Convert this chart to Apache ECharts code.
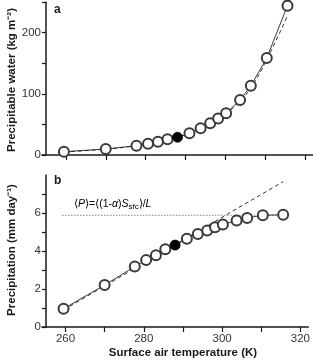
<!DOCTYPE html>
<html><head><meta charset="utf-8">
<script src="https://cdn.jsdelivr.net/npm/echarts@6/dist/echarts.min.js"></script>
<style>html,body{margin:0;padding:0;background:#fff}#c{width:313px;height:363px}</style>
</head><body><div id="c"></div>
<script>
// Data
const temps = [259.5, 270, 277.7, 280.6, 283.1, 285.5, 288.0, 291.0, 293.8, 296.2, 298.2, 300.2, 303.7, 306.4, 310.4, 315.6];
const water = [5.4, 9.8, 15.2, 18.5, 21.8, 25.7, 29, 35.6, 43.8, 52, 59.5, 68.4, 90, 113, 158.5, 244];
const waterFit = [5.0, 9.6, 15.0, 18.3, 21.7, 25.6, 29, 35.4, 43.5, 51.5, 58.8, 67.5, 88, 110, 156, 228];
const precip = [0.96, 2.21, 3.18, 3.52, 3.78, 4.09, 4.31, 4.64, 4.9, 5.08, 5.25, 5.39, 5.6, 5.74, 5.88, 5.91];
const precipFitT = [259.5, 315.6];
const precipFit = [0.9, 7.65];
const limitT = [259.2, 315.6];
const limitP = [5.88, 5.88];
const controlIndex = 6;
const xTicks = [260, 270, 280, 290, 300, 310, 320];
const xLabels = [260, 280, 300, 320];
const wTicks = [0, 50, 100, 150, 200, 250];
const wLabels = [0, 100, 200];
const pTicks = [0, 1, 2, 3, 4, 5, 6, 7];
const pLabels = [0, 2, 4, 6];

const FONT = 'Liberation Sans, Arial, sans-serif';
const INK = '#1a1a1a';
const pair = (xs, ys) => xs.map((x, i) => [x, ys[i]]);
const marked = (xs, ys) => xs.map((x, i) => i === controlIndex
  ? {value: [x, ys[i]], symbol: 'circle', itemStyle: {color: '#000', borderColor: '#000'}}
  : {value: [x, ys[i]]});

function xAxis(gi, showLabels) {
  return {
    type: 'value', gridIndex: gi, min: 254, max: 322,
    axisLine: {lineStyle: {color: INK, width: 1.5}},
    axisTick: {customValues: xTicks, length: 5, lineStyle: {color: INK, width: 1.2}},
    axisLabel: {show: showLabels, customValues: xLabels, color: '#333', fontSize: 11.5, fontFamily: FONT, margin: 6},
    splitLine: {show: false}
  };
}
function yAxis(gi, min, max, ticks, labels) {
  return {
    type: 'value', gridIndex: gi, min: min, max: max, offset: -4,
    axisLine: {show: true, lineStyle: {color: INK, width: 1.5}},
    axisTick: {show: true, customValues: ticks, length: 4, lineStyle: {color: INK, width: 1.2}},
    axisLabel: {customValues: labels, color: '#333', fontSize: 11.5, fontFamily: FONT, margin: 5},
    splitLine: {show: false}
  };
}

const chart = echarts.init(document.getElementById('c'), null, {renderer: 'canvas'});
chart.setOption({
  animation: false,
  backgroundColor: '#fff',
  grid: [
    {left: 42, right: 0, top: 2, height: 153},
    {left: 42, right: 0, top: 175, height: 152}
  ],
  xAxis: [xAxis(0, false), xAxis(1, true)],
  yAxis: [yAxis(0, 0, 250, wTicks, wLabels), yAxis(1, 0, 8, pTicks, pLabels)],
  series: [
    {type: 'line', xAxisIndex: 0, yAxisIndex: 0, data: pair(temps, waterFit), symbol: 'none',
     smooth: true, lineStyle: {color: '#333', width: 1, type: [4, 3]}, z: 1},
    {type: 'line', xAxisIndex: 0, yAxisIndex: 0, data: marked(temps, water), symbol: 'emptyCircle', symbolSize: 10,
     lineStyle: {color: '#222', width: 0.9}, itemStyle: {color: '#3a3a3a', borderWidth: 0.8}, z: 2},
    {type: 'line', xAxisIndex: 1, yAxisIndex: 1, data: pair(limitT, limitP), symbol: 'none',
     lineStyle: {color: '#444', width: 1, type: [1, 2]}, z: 1},
    {type: 'line', xAxisIndex: 1, yAxisIndex: 1, data: pair(precipFitT, precipFit), symbol: 'none',
     lineStyle: {color: '#333', width: 1, type: [4, 3]}, z: 1},
    {type: 'line', xAxisIndex: 1, yAxisIndex: 1, data: marked(temps, precip), symbol: 'emptyCircle', symbolSize: 10,
     lineStyle: {color: '#222', width: 0.9}, itemStyle: {color: '#3a3a3a', borderWidth: 0.8}, z: 2}
  ],
  graphic: [
    {type: 'text', x: 12, y: 80, rotation: Math.PI / 2,
     style: {text: 'Precipitable water (kg m\u207B\u00B2)', font: 'bold 11.5px ' + FONT, fill: INK, align: 'center', verticalAlign: 'middle'}},
    {type: 'text', x: 12, y: 250, rotation: Math.PI / 2,
     style: {text: 'Precipitation (mm day\u207B\u00B9)', font: 'bold 11.5px ' + FONT, fill: INK, align: 'center', verticalAlign: 'middle'}},
    {type: 'text', x: 183, y: 353,
     style: {text: 'Surface air temperature (K)', font: 'bold 11.5px ' + FONT, fill: INK, align: 'center', verticalAlign: 'middle'}},
    {type: 'text', x: 54, y: 10,
     style: {text: 'a', font: 'bold 12px ' + FONT, fill: INK, align: 'left', verticalAlign: 'middle'}},
    {type: 'text', x: 54, y: 181,
     style: {text: 'b', font: 'bold 12px ' + FONT, fill: INK, align: 'left', verticalAlign: 'middle'}},
    {type: 'text', x: 74, y: 204,
     style: {
       text: '{n|\u27E8}{i|P}{n|\u27E9=\u27E8(1-}{i|\u03B1}{n|)}{i|S}{s|sfc}{n|\u27E9/}{i|L}',
       align: 'left', verticalAlign: 'middle',
       rich: {
         n: {fontSize: 10.5, fontFamily: FONT, color: '#222', lineHeight: 14},
         i: {fontSize: 10.5, fontFamily: FONT, fontStyle: 'italic', color: '#222', lineHeight: 14},
         s: {fontSize: 8, fontFamily: FONT, color: '#222', lineHeight: 14, verticalAlign: 'bottom', padding: [5, 0, 0, 0]}
       }
     }}
  ]
});
</script></body></html>
